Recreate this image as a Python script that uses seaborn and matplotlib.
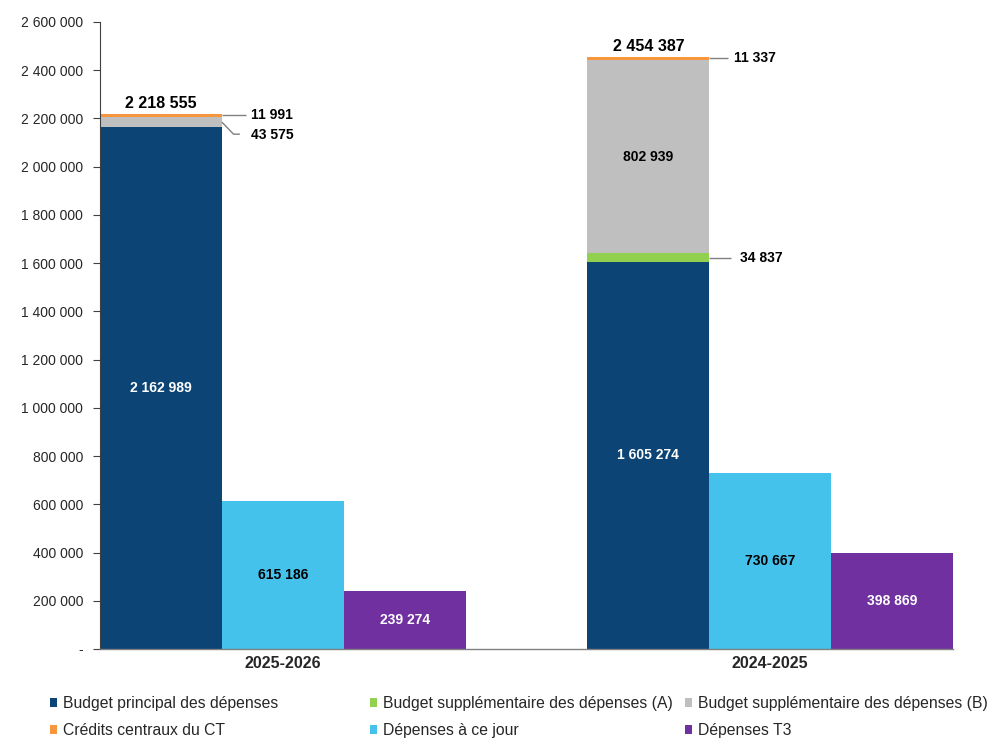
import numpy as np
import pandas as pd
import matplotlib
matplotlib.use("Agg")
import matplotlib.pyplot as plt
import seaborn as sns
from matplotlib.patches import Patch
from matplotlib.ticker import FuncFormatter

# ---------------- data ----------------
categories = ["2025-2026", "2024-2025"]
budget_principal = [2162989, 1605274]
budget_supp_a = [0, 34837]
budget_supp_b = [43575, 802939]
credits_centraux = [11991, 11337]
depenses_jour = [615186, 730667]
depenses_t3 = [239274, 398869]

series_labels = [
    "Budget principal des dépenses",
    "Budget supplémentaire des dépenses (A)",
    "Budget supplémentaire des dépenses (B)",
    "Crédits centraux du CT",
    "Dépenses à ce jour",
    "Dépenses T3",
]
yticks = list(range(0, 2600001, 200000))

# ---------------- style ----------------
colors = {
    "principal": "#0C4475",
    "a": "#92D050",
    "b": "#BFBFBF",
    "ct": "#F7963C",
    "jour": "#44C2EC",
    "t3": "#7030A0",
}

sns.set_theme(style="white")
plt.rcParams["font.family"] = ["Liberation Sans", "DejaVu Sans"]

fig = plt.figure(figsize=(10, 7.55), dpi=100)
ax = fig.add_axes([0.100, 0.1404, 0.853, 0.8305])

idx = np.arange(len(categories))
stack_x = idx - 0.25
jour_x = idx.astype(float)
t3_x = idx + 0.25

p = np.array(budget_principal, dtype=float)
a = np.array(budget_supp_a, dtype=float)
b = np.array(budget_supp_b, dtype=float)
ct = np.array(credits_centraux, dtype=float)
c1 = p
c2 = c1 + a
c3 = c2 + b
c4 = c3 + ct

common = dict(native_scale=True, width=0.25, errorbar=None, saturation=1,
              linewidth=0, ax=ax)
for cum, key in [(c4, "ct"), (c3, "b"), (c2, "a"), (c1, "principal")]:
    sns.barplot(x=stack_x, y=cum, color=colors[key], **common)
sns.barplot(x=jour_x, y=np.array(depenses_jour, float), color=colors["jour"], **common)
sns.barplot(x=t3_x, y=np.array(depenses_t3, float), color=colors["t3"], **common)

ax.set_xlim(-0.375, 1.375)
ax.set_ylim(0, 2600000)
ax.set_xticks(idx)
ax.set_xticklabels(categories, fontsize=11.5, fontweight="bold")
ax.set_yticks(yticks)


def fmt(v, pos=None):
    if v == 0:
        return "-"
    return f"{int(round(v)):,}".replace(",", " ")


ax.yaxis.set_major_formatter(FuncFormatter(fmt))
ax.tick_params(axis="y", which="major", length=5, width=0.8, color="#404040",
               direction="out", labelsize=10, pad=7, left=True)
ax.tick_params(axis="x", length=0, pad=5)
ax.set_xlabel("")
ax.set_ylabel("")
for s in ["top", "right"]:
    ax.spines[s].set_visible(False)
ax.spines["left"].set_color("#404040")
ax.spines["left"].set_linewidth(0.8)
ax.spines["bottom"].set_color("#808080")
ax.spines["bottom"].set_linewidth(1.0)
ax.grid(False)

# ---------------- value labels ----------------
lab = dict(ha="center", va="center", fontsize=10, fontweight="bold")
for i in idx:
    ax.text(stack_x[i], p[i] / 2, fmt(p[i]), color="white", **lab)
    ax.text(jour_x[i], depenses_jour[i] / 2, fmt(depenses_jour[i]), color="black", **lab)
    ax.text(t3_x[i], depenses_t3[i] / 2, fmt(depenses_t3[i]), color="white", **lab)
    ax.annotate(fmt(c4[i]), (stack_x[i], c4[i]), xytext=(0, 2),
                textcoords="offset points", ha="center", va="bottom",
                fontsize=11.5, fontweight="bold", color="black")

# gray B label inside for 2024-2025
ax.text(stack_x[1], c2[1] + b[1] / 2, fmt(b[1]), color="black", **lab)

line_kw = dict(color="#808080", lw=1, solid_capstyle="butt")
out_lab = dict(ha="left", va="center", fontsize=10, fontweight="bold", color="black")
edge = stack_x + 0.125

# 2025-2026 : CT and B labels outside
y_ct0 = c3[0] + ct[0] / 2
ax.plot([edge[0], edge[0] + 0.049], [y_ct0, y_ct0], **line_kw)
ax.text(edge[0] + 0.059, y_ct0, fmt(ct[0]), **out_lab)
y_b0 = c2[0] + b[0] / 2
ax.plot([edge[0], edge[0] + 0.024, edge[0] + 0.037],
        [y_b0, y_b0 - 50000, y_b0 - 50000], **line_kw)
ax.text(edge[0] + 0.059, y_b0 - 52000, fmt(b[0]), **out_lab)

# 2024-2025 : CT and A labels outside
y_ct1 = c3[1] + ct[1] / 2
ax.plot([edge[1], edge[1] + 0.039], [y_ct1, y_ct1], **line_kw)
ax.text(edge[1] + 0.051, y_ct1, fmt(ct[1]), **out_lab)
y_a1 = c1[1] + a[1] / 2
ax.plot([edge[1], edge[1] + 0.045], [y_a1, y_a1], **line_kw)
ax.text(edge[1] + 0.0635, y_a1, fmt(a[1]), **out_lab)

# ---------------- legend ----------------
handles = [Patch(facecolor=colors[k], edgecolor="none")
           for k in ["principal", "a", "b", "ct", "jour", "t3"]]
col_x = [0.050, 0.370, 0.685]
for c in range(3):
    hs = [handles[c], handles[c + 3]]
    ls = [series_labels[c], series_labels[c + 3]]
    fig.legend(hs, ls, loc="center left", bbox_to_anchor=(col_x[c], 0.0503),
               ncol=1, frameon=False, fontsize=11.3, handlelength=0.45,
               handleheight=0.45, handletextpad=0.35, labelspacing=0.75,
               borderpad=0, borderaxespad=0)

fig.savefig("out.png", dpi=100)
